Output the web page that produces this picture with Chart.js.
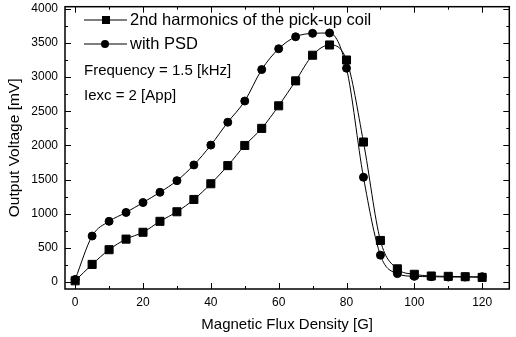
<!DOCTYPE html>
<html>
<head>
<meta charset="utf-8">
<script src="https://cdn.jsdelivr.net/npm/chart.js@4/dist/chart.umd.min.js"></script>
<style>
  html, body { margin: 0; padding: 0; background: #fff; }
  #wrap { width: 516px; height: 337px; }
</style>
</head>
<body>
<div id="wrap"><canvas id="chart"></canvas></div>
<script>
// flux density [G]
var fluxDensity = [0, 5, 10, 15, 20, 25, 30, 35, 40, 45, 50, 55, 60, 65, 70, 75, 80, 85, 90, 95, 100, 105, 110, 115, 120];
// 2nd harmonics of the pick-up coil [mV]
var harmonics = [20, 260, 475, 630, 730, 890, 1030, 1210, 1440, 1705, 2000, 2250, 2580, 2945, 3320, 3470, 3250, 2050, 610, 195, 115, 90, 85, 80, 70];
// with PSD [mV]
var withPsd = [40, 675, 890, 1020, 1165, 1315, 1485, 1715, 2005, 2340, 2650, 3110, 3415, 3590, 3640, 3645, 3130, 1535, 395, 125, 85, 80, 75, 75, 80];
var xTicks = [0, 20, 40, 60, 80, 100, 120];
var yTicks = [0, 500, 1000, 1500, 2000, 2500, 3000, 3500, 4000];
var legendNotes = ['Frequency = 1.5 [kHz]', 'Iexc = 2 [App]'];

var FONT = '"Liberation Sans", Arial, sans-serif';

function toPoints(ys) {
    return fluxDensity.map(function (x, i) { return { x: x, y: ys[i] }; });
}

// inward ticks on all four sides plus the frame
var frameTicks = {
    id: 'frameTicks',
    afterDraw: function (chart) {
        var ctx = chart.ctx, a = chart.chartArea;
        var xs = chart.scales.x, ys = chart.scales.y;
        ctx.save();
        ctx.strokeStyle = '#000';
        ctx.lineWidth = 1.5;
        ctx.strokeRect(a.left, a.top, a.right - a.left, a.bottom - a.top);
        ctx.lineWidth = 1;
        ctx.beginPath();
        for (var v = 0; v <= 120; v += 10) {
            var px = Math.round(xs.getPixelForValue(v)) + 0.5;
            var len = v % 20 === 0 ? 6 : 3;
            ctx.moveTo(px, a.bottom); ctx.lineTo(px, a.bottom - len);
            ctx.moveTo(px, a.top); ctx.lineTo(px, a.top + len);
        }
        for (var w = 0; w <= 4000; w += 250) {
            var py = Math.round(ys.getPixelForValue(w)) + 0.5;
            var l2 = w % 500 === 0 ? 6 : 3;
            ctx.moveTo(a.left, py); ctx.lineTo(a.left + l2, py);
            ctx.moveTo(a.right, py); ctx.lineTo(a.right - l2, py);
        }
        ctx.stroke();
        ctx.restore();
    }
};

// legend box inside the plot, top left
var insideLegend = {
    id: 'insideLegend',
    afterDraw: function (chart) {
        var ctx = chart.ctx;
        ctx.save();
        ctx.fillStyle = '#000';
        ctx.strokeStyle = '#000';
        ctx.lineWidth = 1;
        ctx.textBaseline = 'middle';
        ctx.font = '16.5px ' + FONT;
        var rows = [20, 44];
        chart.data.datasets.forEach(function (ds, i) {
            var y = rows[i];
            ctx.beginPath();
            ctx.moveTo(84, y); ctx.lineTo(127, y);
            ctx.stroke();
            if (ds.pointStyle === 'rect') {
                ctx.fillRect(102, y - 4, 8, 8);
            } else {
                ctx.beginPath();
                ctx.arc(105, y, 4, 0, Math.PI * 2);
                ctx.fill();
            }
            ctx.fillText(ds.label, 130, y);
        });
        ctx.font = '15px ' + FONT;
        ctx.fillText(legendNotes[0], 84, 71);
        ctx.fillText(legendNotes[1], 84, 96);
        ctx.restore();
    }
};

var ctx = document.getElementById('chart').getContext('2d');
var chart = new Chart(ctx, {
    type: 'line',
    data: {
        datasets: [{
            label: '2nd harmonics of the pick-up coil',
            data: toPoints(harmonics),
            pointStyle: 'rect',
            pointRadius: 5.7,
            borderColor: '#000',
            backgroundColor: '#000',
            borderWidth: 1,
            cubicInterpolationMode: 'monotone'
        }, {
            label: 'with PSD',
            data: toPoints(withPsd),
            pointStyle: 'circle',
            pointRadius: 4,
            borderColor: '#000',
            backgroundColor: '#000',
            borderWidth: 1,
            cubicInterpolationMode: 'monotone'
        }]
    },
    options: {
        responsive: true,
        maintainAspectRatio: false,
        animation: false,
        layout: { padding: { left: 5, right: 5, top: 6, bottom: 3 } },
        plugins: {
            legend: { display: false },
            tooltip: { enabled: false }
        },
        scales: {
            x: {
                type: 'linear',
                min: -3,
                max: 128,
                afterBuildTicks: function (scale) {
                    scale.ticks = xTicks.map(function (v) { return { value: v }; });
                },
                afterFit: function (scale) {
                    scale.height = 45;
                    scale.paddingLeft = 0;
                    scale.paddingRight = 0;
                },
                grid: { display: false, drawTicks: false },
                border: { display: false },
                ticks: { color: '#000', padding: 6, maxRotation: 0, font: { family: FONT, size: 12 } },
                title: {
                    display: true,
                    text: 'Magnetic Flux Density [G]',
                    color: '#000',
                    padding: 0,
                    font: { family: FONT, size: 15 }
                }
            },
            y: {
                min: -100,
                max: 4030,
                afterBuildTicks: function (scale) {
                    scale.ticks = yTicks.map(function (v) { return { value: v }; });
                },
                afterFit: function (scale) {
                    scale.width = 60;
                    scale.paddingTop = 0;
                    scale.paddingBottom = 0;
                },
                grid: { display: false, drawTicks: false },
                border: { display: false },
                ticks: {
                    color: '#000',
                    padding: 7,
                    font: { family: FONT, size: 12 },
                    callback: function (v) { return String(v); }
                },
                title: {
                    display: true,
                    text: 'Output Voltage [mV]',
                    color: '#000',
                    padding: 0,
                    font: { family: FONT, size: 15.5 }
                }
            }
        }
    },
    plugins: [frameTicks, insideLegend]
});
</script>
</body>
</html>
